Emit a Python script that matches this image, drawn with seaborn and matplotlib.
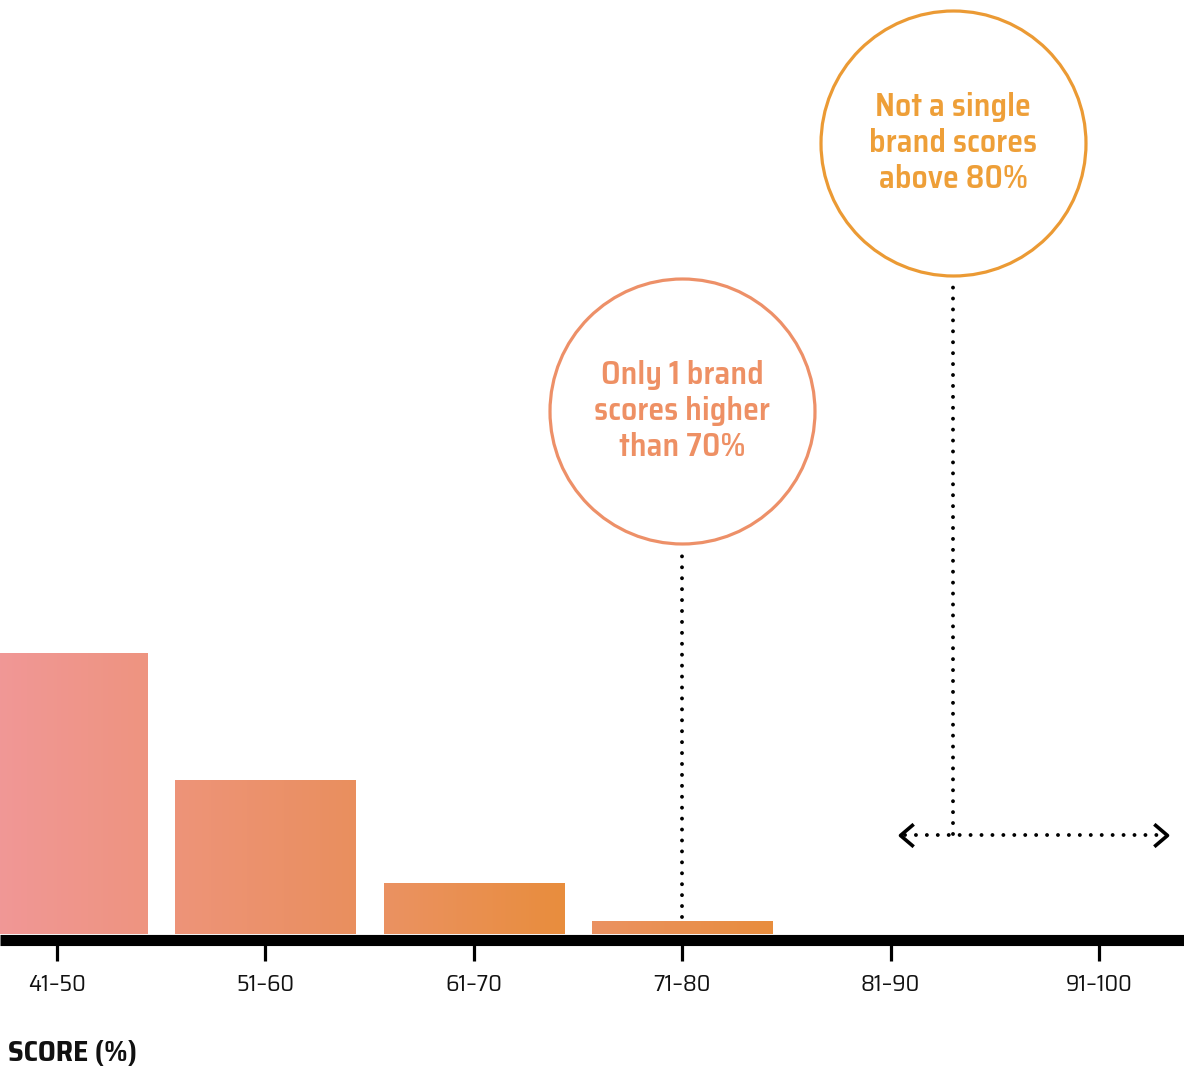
import numpy as np
import matplotlib.pyplot as plt
import matplotlib.colors as mcolors
import seaborn as sns

# data
score_bins = ["41–50", "51–60", "61–70", "71–80", "81–90", "91–100"]
brand_counts = [22, 12, 4, 1, 0, 0]
note_low = "Only 1 brand\nscores higher\nthan 70%"
note_high = "Not a single\nbrand scores\nabove 80%"
x_label = "SCORE (%)"

# per-bar gradient (left colour, right colour)
bar_grads = [
    ("#F1989B", "#EE9480"),
    ("#EE9479", "#E98F5E"),
    ("#EB9262", "#E88D3D"),
    ("#EB9262", "#E88D3D"),
    ("#E88D3D", "#E88D3D"),
    ("#E88D3D", "#E88D3D"),
]

sns.set_style("white")
plt.rcParams["font.family"] = ["Saira SemiCondensed", "DejaVu Sans"]

fig = plt.figure(figsize=(11.84, 10.71), dpi=100)
ax = fig.add_axes([0, 137 / 1071, 1, 934 / 1071])

sns.barplot(x=score_bins, y=brand_counts, order=score_bins, ax=ax,
            width=0.864, color="#E88D3D", saturation=1, zorder=1)

# gradient fill clipped to each bar
for patch, (c0, c1) in zip(ax.patches, bar_grads):
    x0, w, h = patch.get_x(), patch.get_width(), patch.get_height()
    if h <= 0:
        continue
    cmap = mcolors.LinearSegmentedColormap.from_list("g", [c0, c1])
    grad = np.linspace(0, 1, 256).reshape(1, -1)
    im = ax.imshow(grad, cmap=cmap, aspect="auto", extent=(x0, x0 + w, 0, h),
                   zorder=1.5, interpolation="bilinear")
    im.set_clip_path(patch)
    patch.set_facecolor("none")
    patch.set_edgecolor("none")
ax.set_xlim(-0.2735, 5.408)
ax.set_ylim(0, 73)

# axis styling
for side in ["top", "left", "right"]:
    ax.spines[side].set_visible(False)
ax.spines["bottom"].set_linewidth(8)
ax.spines["bottom"].set_color("black")
ax.spines["bottom"].set_position(("outward", 4))
ax.spines["bottom"].set_capstyle("butt")
ax.set_yticks([])
ax.set_xticks(range(len(score_bins)))
ax.set_xticklabels(score_bins, fontsize=17, color="#111111")
ax.tick_params(axis="x", bottom=True, direction="out", length=15, width=2.3,
               color="black", pad=10)
ax.set_xlabel("")
ax.set_ylabel("")

dot_style = dict(color="black", linewidth=2.8, linestyle=(0, (0.01, 2.8)),
                 dash_capstyle="round", zorder=2)

# annotation 1: only one brand above 70%
ax.plot([3, 3], [1.3, 30.0], **dot_style)
ax.scatter([3], [40.9], s=36400, facecolors="white", edgecolors="#ED9068",
           linewidths=2.3, zorder=3)
ax.text(3, 40.9, note_low, ha="center", va="center", multialignment="center",
        fontsize=23, fontweight=600, color="#EE9064", linespacing=1.25, zorder=4)

# annotation 2: nobody above 80%
ax.plot([4.30, 4.30], [7.8, 51.0], **dot_style)
ax.plot([4.07, 5.30], [7.73, 7.73], **dot_style)
left_chev = [(1, 0.85), (0, 0), (1, -0.85)]
right_chev = [(-1, 0.85), (0, 0), (-1, -0.85)]
ax.plot([4.045], [7.73], marker=left_chev, markersize=19, mfc="none",
        mec="black", mew=2.6, linestyle="none", zorder=2)
ax.plot([5.326], [7.73], marker=right_chev, markersize=19, mfc="none",
        mec="black", mew=2.6, linestyle="none", zorder=2)
ax.scatter([4.30], [61.8], s=36400, facecolors="white", edgecolors="#EB9A34",
           linewidths=2.3, zorder=3)
ax.text(4.30, 61.8, note_high, ha="center", va="center", multialignment="center",
        fontsize=23, fontweight=600, color="#EE9F38", linespacing=1.25, zorder=4)

fig.text(8 / 1184, 1 - 1053 / 1071, x_label, ha="left", va="center",
         fontsize=21, fontweight="bold", color="#111111")

fig.savefig("out.png", dpi=100)
plt.close(fig)
